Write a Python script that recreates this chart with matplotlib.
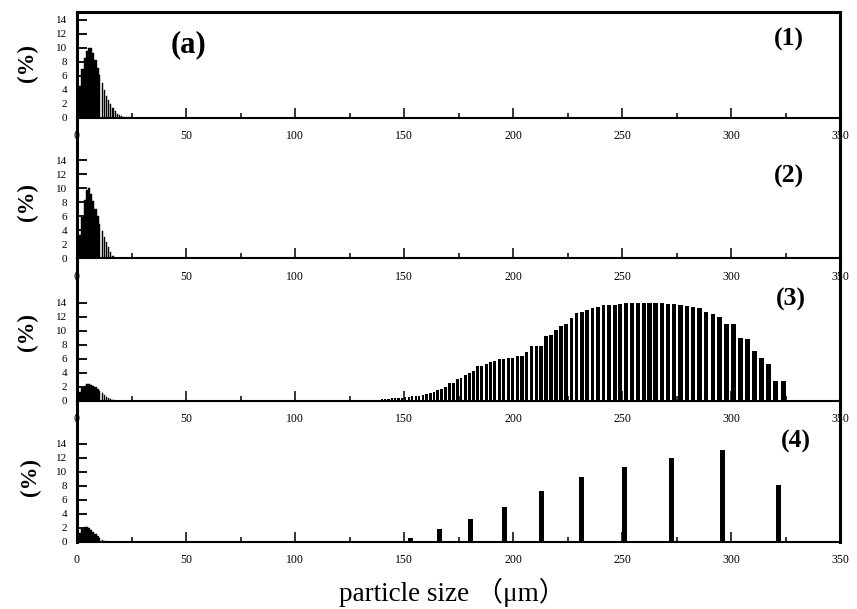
import numpy as np
import matplotlib.pyplot as plt
from matplotlib.ticker import MultipleLocator

plt.rcParams['font.family'] = ['Liberation Serif', 'Noto Sans CJK SC']

# --- fine mode (1 um bins) ---
fine_size = [0.5, 1.5, 2.5, 3.5, 4.5, 5.5, 6.5, 7.5, 8.5, 9.5, 10.5, 11.5, 12.5,
             13.5, 14.5, 15.5, 16.5, 17.5, 18.5, 19.5, 20.5, 21.5, 22.5, 23.5, 24.5]
fine_1 = [1.5, 4.5, 6.9, 8.6, 9.6, 10.0, 9.9, 9.3, 8.2, 7.1, 6.1, 5.0, 4.0,
          3.15, 2.5, 1.9, 1.4, 0.95, 0.6, 0.38, 0.24, 0.15, 0.09, 0.05, 0.03]
fine_2 = [1.0, 3.3, 5.9, 8.3, 9.7, 10.0, 9.2, 8.2, 7.1, 6.0, 4.95, 3.95, 3.1,
          2.35, 1.6, 0.9, 0.3, 0, 0, 0, 0, 0, 0, 0, 0]
fine_3 = [0.6, 1.2, 1.75, 2.15, 2.33, 2.38, 2.3, 2.15, 1.95, 1.7, 1.4, 1.1, 0.8,
          0.55, 0.35, 0.2, 0.08, 0, 0, 0, 0, 0, 0, 0, 0]
fine_4 = [0.5, 1.3, 1.8, 2.05, 2.05, 1.9, 1.65, 1.35, 1.05, 0.75, 0.48, 0.28, 0.15,
          0.06, 0, 0, 0, 0, 0, 0, 0, 0, 0, 0, 0]

# --- coarse mode, sample (3) ---
coarse_size_3 = [135.6, 137.1, 138.5, 140.0, 141.4, 142.9, 144.4, 146.0, 147.5, 149.0,
                 150.6, 152.2, 153.8, 155.4, 157.0, 158.7, 160.4, 162.1, 163.8, 165.5,
                 167.2, 169.0, 170.8, 172.6, 174.4, 176.2, 178.1, 180.0, 181.9, 183.8,
                 185.7, 187.7, 189.7, 191.7, 193.7, 195.7, 197.8, 199.9,
                 202.0, 204.1, 206.3, 208.5, 210.7, 212.9, 215.2, 217.4, 219.7, 222.0,
                 224.4, 226.8, 229.2, 231.6, 234.0, 236.5, 239.0, 241.5, 244.0, 246.6,
                 249.2, 251.8, 254.5, 257.2, 259.9, 262.6, 265.4, 268.2, 271.0, 273.9,
                 276.8, 279.7, 282.6, 285.6, 288.6, 291.7, 294.8, 297.9, 301.0, 304.2,
                 307.4, 310.6, 313.9, 317.2, 320.6, 324.0, 327.4]
coarse_3 = [0.08, 0.12, 0.15, 0.2, 0.25, 0.28, 0.32, 0.35, 0.38, 0.42,
            0.47, 0.55, 0.6, 0.66, 0.7, 0.8, 0.9, 1.1, 1.3, 1.5,
            1.7, 1.9, 2.46, 2.46, 3.1, 3.2, 3.6, 4.0, 4.2, 4.9,
            4.9, 5.3, 5.5, 5.64, 5.9, 5.9, 6.16, 6.16,
            6.4, 6.4, 6.9, 7.87, 7.87, 7.87, 9.3, 9.4, 10.1, 10.7,
            11.0, 11.85, 12.5, 12.7, 12.9, 13.2, 13.4, 13.6, 13.7, 13.74,
            13.84, 13.93, 14.0, 14.0, 14.0, 14.0, 13.93, 13.9, 13.84, 13.8,
            13.74, 13.55, 13.4, 13.3, 12.6, 12.4, 11.9, 10.9, 10.9, 8.9,
            8.77, 7.16, 6.07, 5.26, 2.8, 2.8, 0.15]

# --- coarse mode, sample (4) ---
coarse_size_4 = [153.1, 166.2, 180.5, 196.0, 213.1, 231.3, 251.1, 272.8, 296.2, 321.8]
coarse_4 = [0.57, 1.8, 3.22, 4.98, 7.3, 9.29, 10.66, 11.94, 13.03, 8.06]

panel_tags = ['(1)', '(2)', '(3)', '(4)']

W, H = 857, 609
fig = plt.figure(figsize=(W / 100, H / 100), dpi=100)

# axes boxes in pixels: (bottom y, top y)
boxes = [(117.7, 11.7), (258.3, 117.7), (400.7, 258.3), (541.7, 400.7)]
x0, x1 = 77, 840
px_per_unit = 7.0

fines = [fine_1, fine_2, fine_3, fine_4]
tag_pos = [(789, 39), (789, 176), (791, 299), (796, 441)]
ylab_pos = [(27, 63), (27, 202), (27, 332), (30, 477)]

fs = np.array(fine_size)
fine_w = np.where(fs < 10, 1.0, 0.5)

axes = []
for i in range(4):
    yb, yt = boxes[i]
    ax = fig.add_axes([x0 / W, 1 - yb / H, (x1 - x0) / W, (yb - yt) / H])
    ax.patch.set_visible(False)
    ax.bar(fine_size, fines[i], width=fine_w, color='black', edgecolor='black',
           linewidth=0.3, align='center')
    if i == 2:
        cs = np.array(coarse_size_3)
        ax.bar(coarse_size_3, coarse_3, width=cs * 0.0072, color='black',
               linewidth=0)
    if i == 3:
        ax.bar(coarse_size_4, coarse_4, width=2.5, color='black', linewidth=0)

    ax.set_xlim(0, 350)
    ax.set_ylim(0, (yb - yt) / px_per_unit)
    ax.xaxis.set_major_locator(MultipleLocator(50))
    ax.xaxis.set_minor_locator(MultipleLocator(25))
    ax.set_yticks(range(0, 15, 2))
    ax.tick_params(axis='x', which='major', direction='in', length=7, width=1.1,
                   labelsize=8.5, pad=9, top=False)
    ax.tick_params(axis='x', which='minor', direction='in', length=3.5, width=1.1,
                   top=False)
    ax.tick_params(axis='y', direction='in', length=7, width=1.3, labelsize=8,
                   pad=7, right=False)
    for side in ['left', 'right', 'top']:
        ax.spines[side].set_linewidth(2.2)
    ax.spines['bottom'].set_linewidth(1.5)
    if i > 0:
        ax.spines['top'].set_visible(False)

    tx, ty = tag_pos[i]
    fig.text(tx / W, 1 - ty / H, panel_tags[i], fontsize=18.5, fontweight='bold',
             ha='center', va='center')
    lx, ly = ylab_pos[i]
    fig.text(lx / W, 1 - ly / H, '(%)', fontsize=16.5, fontweight='bold',
             rotation=90, ha='center', va='center')
    axes.append(ax)

fig.text(188 / W, 1 - 45 / H, '(a)', fontsize=22, fontweight='bold',
         ha='center', va='center')
fig.text(452 / W, 1 - 592 / H, 'particle size （μm）', fontsize=19.5,
         ha='center', va='center')

fig.savefig('out.png', dpi=100)
